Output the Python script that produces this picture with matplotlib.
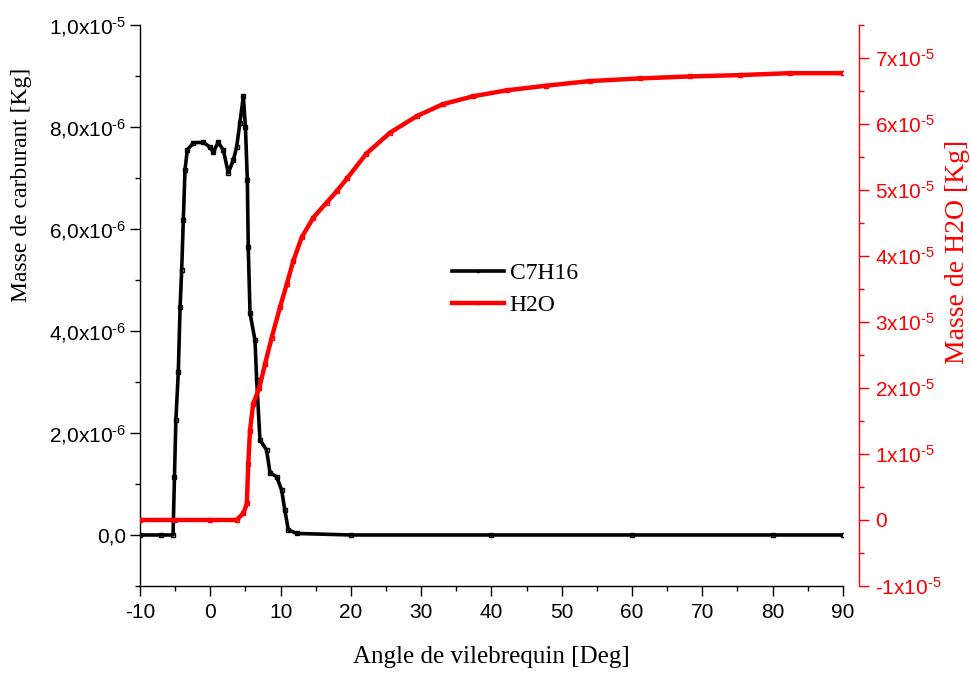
import matplotlib
matplotlib.use("Agg")
import matplotlib.pyplot as plt
from matplotlib.ticker import FixedLocator, MultipleLocator

# ---- data ----
angle_c7h16 = [-10, -7, -5.3, -5.1, -4.9, -4.55, -4.3, -4.07, -3.84, -3.6, -3.27,
               -2.4, -1.0, 0.0, 0.43, 1.1, 1.85, 2.56, 3.27, 3.74, 4.2, 4.7, 5.0,
               5.27, 5.4, 5.65, 6.36, 6.6, 7.07, 8.0, 8.5, 9.45, 10.15, 10.6, 11.1,
               12.3, 20, 40, 60, 80, 90]
mass_c7h16 = [0, 0, 0, 1.14e-6, 2.25e-6, 3.2e-6, 4.47e-6, 5.2e-6, 6.18e-6, 7.16e-6, 7.55e-6,
              7.69e-6, 7.7e-6, 7.6e-6, 7.5e-6, 7.7e-6, 7.55e-6, 7.1e-6, 7.35e-6, 7.6e-6, 8.07e-6, 8.6e-6, 8.0e-6,
              6.96e-6, 5.65e-6, 4.35e-6, 3.82e-6, 3.04e-6, 1.86e-6, 1.67e-6, 1.22e-6, 1.14e-6, 0.88e-6, 0.49e-6, 0.1e-6,
              0.03e-6, 0, 0, 0, 0, 0]

angle_h2o = [-10, -5, 0, 3.74, 4.7, 5.2, 5.4, 5.65, 6.1, 6.97, 7.78, 8.73, 9.91, 10.87, 11.8,
             13.0, 14.65, 16.56, 17.98, 19.5, 22.2, 25.6, 29.4, 33.1, 37.4, 42.2, 47.8, 54.0,
             61.1, 68.2, 75.3, 82.5, 90]
mass_h2o = [0, 0, 0, 0, 0.1e-5, 0.25e-5, 0.85e-5, 1.35e-5, 1.76e-5, 2.0e-5, 2.36e-5, 2.76e-5, 3.22e-5,
            3.57e-5, 3.92e-5, 4.28e-5, 4.58e-5, 4.81e-5, 4.98e-5, 5.18e-5, 5.55e-5, 5.87e-5, 6.12e-5,
            6.30e-5, 6.42e-5, 6.51e-5, 6.58e-5, 6.65e-5, 6.69e-5, 6.72e-5, 6.74e-5, 6.77e-5, 6.77e-5]

x_ticks = [-10, 0, 10, 20, 30, 40, 50, 60, 70, 80, 90]
left_ticks = [0, 2e-6, 4e-6, 6e-6, 8e-6, 1e-5]
left_labels = ['0,0', r'2,0x10$^{\text{-}6}$', r'4,0x10$^{\text{-}6}$', r'6,0x10$^{\text{-}6}$',
               r'8,0x10$^{\text{-}6}$', r'1,0x10$^{\text{-}5}$']
right_ticks = [-1e-5, 0, 1e-5, 2e-5, 3e-5, 4e-5, 5e-5, 6e-5, 7e-5]
right_labels = [r'-1x10$^{\text{-}5}$', '0', r'1x10$^{\text{-}5}$', r'2x10$^{\text{-}5}$',
                r'3x10$^{\text{-}5}$', r'4x10$^{\text{-}5}$', r'5x10$^{\text{-}5}$',
                r'6x10$^{\text{-}5}$', r'7x10$^{\text{-}5}$']

plt.rcParams['axes.unicode_minus'] = False
plt.rcParams['font.family'] = ['Liberation Sans', 'DejaVu Sans']
plt.rcParams['mathtext.fontset'] = 'custom'
plt.rcParams['mathtext.rm'] = 'Liberation Sans'
plt.rcParams['mathtext.it'] = 'Liberation Sans:italic'
plt.rcParams['mathtext.bf'] = 'Liberation Sans:bold'

fig = plt.figure(figsize=(9.71, 6.73), dpi=100)
ax = fig.add_axes([0.1442, 0.1293, 0.868 - 0.1442, 0.9629 - 0.1293])
ax2 = ax.twinx()

l1, = ax.plot(angle_c7h16, mass_c7h16, color='black', lw=2.6, marker='s', ms=2.5,
              mfc='none', mew=1.0, label='C7H16')
l2, = ax2.plot(angle_h2o, mass_h2o, color='red', lw=3.2, marker='s', ms=2.5,
               mfc='none', mew=1.0, label='H2O')

ax.set_xlim(-10, 90)
ax.set_ylim(-1e-6, 1e-5)
ax2.set_ylim(-1e-5, 7.5e-5)

ax.xaxis.set_major_locator(FixedLocator(x_ticks))
ax.xaxis.set_minor_locator(MultipleLocator(5))
ax.set_xticklabels([str(t) for t in x_ticks])

ax.yaxis.set_major_locator(FixedLocator(left_ticks))
ax.yaxis.set_minor_locator(MultipleLocator(1e-6))
ax.set_yticklabels(left_labels)

ax2.yaxis.set_major_locator(FixedLocator(right_ticks))
ax2.yaxis.set_minor_locator(MultipleLocator(0.5e-5))
ax2.set_yticklabels(right_labels)

for a in (ax, ax2):
    a.spines['top'].set_visible(False)
ax.spines['right'].set_visible(False)
ax2.spines['left'].set_visible(False)
ax2.spines['bottom'].set_visible(False)
ax2.spines['right'].set_color('red')
ax2.spines['right'].set_position(('outward', 12))
for s in (ax.spines['left'], ax.spines['bottom'], ax2.spines['right']):
    s.set_linewidth(1.0)

ax.tick_params(axis='both', which='major', direction='out', length=7, width=1.0,
               labelsize=15, colors='black')
ax.tick_params(axis='both', which='minor', direction='out', length=3.5, width=1.0)
ax.tick_params(axis='x', pad=5)
ax.tick_params(axis='y', pad=3)
ax2.tick_params(axis='y', which='major', direction='out', length=7, width=1.0,
                labelsize=15, colors='red', pad=4)
ax2.tick_params(axis='y', which='minor', direction='out', length=3.5, width=1.0, colors='red')

ax.set_xlabel('Angle de vilebrequin [Deg]', fontsize=18, family='Liberation Serif')
ax.xaxis.set_label_coords(0.5, -0.107)
ax.set_ylabel('Masse de carburant [Kg]', fontsize=17, family='Liberation Serif')
ax.yaxis.set_label_coords(-0.154, 0.715)
ax2.set_ylabel('Masse de H2O [Kg]', fontsize=20, family='Liberation Serif', color='red')
ax2.yaxis.set_label_coords(1.146, 0.595)

leg = ax.legend(handles=[l1, l2], loc='center left', bbox_to_anchor=(0.4135, 0.529),
                frameon=False, prop={'family': 'Liberation Serif', 'size': 17},
                handlelength=2.2, handletextpad=0.25, labelspacing=0.45, markerscale=0.6)

fig.savefig('out.png', dpi=100)
